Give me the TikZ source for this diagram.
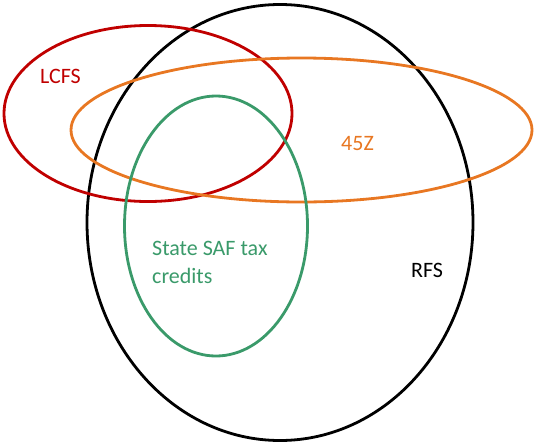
\documentclass[tikz,border=0pt]{standalone}
\usepackage{fontspec}
\setmainfont{Carlito}
\definecolor{lcfsred}{HTML}{C00000}
\definecolor{zorange}{HTML}{E87722}
\definecolor{safgreen}{HTML}{3A9A6A}
\begin{document}
\begin{tikzpicture}[x=1pt,y=-1pt,
  ring/.style={line width=2.8pt},
  lbl/.style={anchor=base west,inner sep=0pt,font=\fontsize{22}{28}\selectfont}]
\useasboundingbox (0,0) rectangle (535,445);
\draw[ring,black] (280,222.5) ellipse [x radius=193, y radius=218];
\draw[ring,lcfsred] (148,113.5) ellipse [x radius=144, y radius=88];
\draw[ring,zorange] (301.5,130) ellipse [x radius=230.5, y radius=72];
\draw[ring,safgreen] (216,226) ellipse [x radius=91.5, y radius=130];
\node[lbl,text=lcfsred] (lcfs) at (40,83) {LCFS};
\node[lbl,text=zorange] (z45) at (341,150) {45Z};
\node[lbl,text=black] (rfs) at (411,277) {RFS};
\node[lbl,text=safgreen,align=left] (saf) at (152,283) {State SAF tax\\credits};
\end{tikzpicture}
\end{document}
